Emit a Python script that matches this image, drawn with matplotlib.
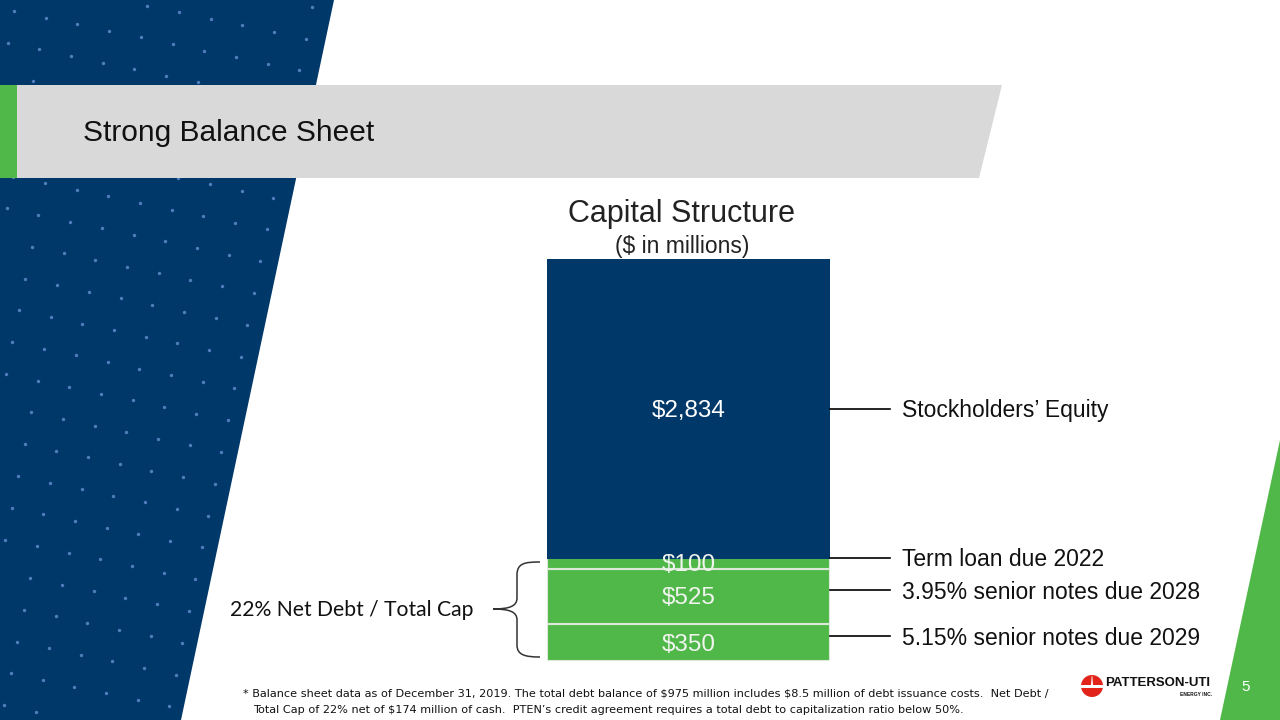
import numpy as np
import matplotlib.pyplot as plt
from matplotlib.patches import Polygon, PathPatch, Circle, Rectangle
from matplotlib.path import Path

# capital structure ($ in millions), bottom to top
segments = ['5.15% senior notes due 2029', '3.95% senior notes due 2028',
            'Term loan due 2022', 'Stockholders\u2019 Equity']
values = [350, 525, 100, 2834]
value_labels = ['$350', '$525', '$100', '$2,834']
seg_colors = ['#50B848', '#50B848', '#50B848', '#01386A']

# leader line offsets from segment middle (data units), layout only
leader_shift = [60, 60, 55, 0]

navy = '#01386A'
green = '#50B848'

fig = plt.figure(figsize=(12.8, 7.2), dpi=100)
bg = fig.add_axes([0, 0, 1, 1])
bg.set_xlim(0, 1280)
bg.set_ylim(720, 0)
bg.axis('off')

# left navy panel with dot pattern
bg.add_patch(Polygon([(0, 0), (334, 0), (181, 720), (0, 720)], closed=True,
                     facecolor=navy, edgecolor='none', zorder=0))
dx, dy = np.meshgrid(np.arange(-10, 30), np.arange(-5, 40))
px = 14 + dx * 31.7 - dy * 6.5
py = 11 + dx * 6.6 + dy * 31.8
edge = 334 - py * (153 / 720)
m = (px > 2) & (px < edge - 6) & (py > 2) & (py < 718)
bg.scatter(px[m], py[m], s=6, color='#4F7EBA', linewidths=0, zorder=1)

# right green triangle
bg.add_patch(Polygon([(1280, 440), (1280, 720), (1220, 720)], closed=True,
                     facecolor=green, edgecolor='none', zorder=0))

# title banner
bg.add_patch(Polygon([(0, 85), (1002, 85), (979, 178), (0, 178)], closed=True,
                     facecolor='#D9D9D9', edgecolor='none', zorder=2))
bg.add_patch(Polygon([(0, 85), (17, 85), (17, 178), (0, 178)], closed=True,
                     facecolor=green, edgecolor='none', zorder=3))
bg.text(83, 133, 'Strong Balance Sheet', fontsize=21.5, family='Liberation Sans',
        va='center', ha='left', color='#111111', zorder=4)

# chart titles
bg.text(682, 214, 'Capital Structure', fontsize=22, family='Liberation Sans',
        ha='center', va='center', color='#222222')
bg.text(682, 246, '($ in millions)', fontsize=16.5, family='Liberation Sans',
        ha='center', va='center', color='#222222')

# stacked bar
ax = fig.add_axes([547 / 1280, 1 - 661 / 720, 283 / 1280, 402 / 720])
total = sum(values)
bottom = 0
for lab, v, vl, c, sh in zip(segments, values, value_labels, seg_colors, leader_shift):
    ec = '#DCE8DA' if c == green else c
    ax.bar(0, v, bottom=bottom, width=1, color=c, edgecolor=ec, linewidth=1.5)
    mid = bottom + v / 2
    ax.annotate(vl, (0, mid), xytext=(0, -1.5), textcoords='offset points',
                ha='center', va='center', fontsize=17.5, family='Liberation Sans',
                color='#F0F4EE' if c == green else 'white')
    ly = mid + sh
    ax.plot([0.5, 0.712], [ly, ly], color='black', lw=1.2, clip_on=False)
    ax.annotate(lab, (0.754, ly), xytext=(0, -1.5), textcoords='offset points',
                ha='left', va='center', fontsize=16.5, family='Liberation Sans',
                color='#111111', annotation_clip=False)
    bottom += v
ax.set_xlim(-0.5, 0.5)
ax.set_ylim(0, total)
ax.axis('off')

# brace for debt
verts = [(540, 562), (525, 562), (517, 563), (517, 575), (517, 598),
         (517, 606), (510, 609), (493, 609),
         (510, 609), (517, 612), (517, 620), (517, 645),
         (517, 655), (525, 657), (540, 657)]
codes = [Path.MOVETO, Path.CURVE4, Path.CURVE4, Path.CURVE4, Path.LINETO,
         Path.CURVE4, Path.CURVE4, Path.CURVE4,
         Path.CURVE4, Path.CURVE4, Path.CURVE4, Path.LINETO,
         Path.CURVE4, Path.CURVE4, Path.CURVE4]
bg.add_patch(PathPatch(Path(verts, codes), facecolor='none', edgecolor='#333333', lw=1.1))
bg.text(474, 610, '22% Net Debt / Total Cap', fontsize=15.2, family='Lato',
        ha='right', va='center', color='#111111')

# footnote
bg.text(243, 693, '* Balance sheet data as of December 31, 2019. The total debt balance of $975 million '
        'includes $8.5 million of debt issuance costs.  Net Debt /',
        fontsize=8.1, family='DejaVu Sans', ha='left', va='center', color='#111111',
        parse_math=False)
bg.text(253, 710, 'Total Cap of 22% net of $174 million of cash.  PTEN\u2019s credit agreement requires '
        'a total debt to capitalization ratio below 50%.',
        fontsize=8.1, family='DejaVu Sans', ha='left', va='center', color='#111111',
        parse_math=False)

# logo
bg.add_patch(Circle((1092, 686), 11, facecolor='#E2231A', edgecolor='none'))
bg.add_patch(Rectangle((1080, 685), 24, 3, facecolor='white', edgecolor='none'))
bg.add_patch(Polygon([(1091, 685), (1093, 685), (1092.3, 676), (1091.7, 676)],
                     closed=True, facecolor='white', edgecolor='none'))
bg.text(1105, 683, 'PATTERSON-UTI', fontsize=9.5, fontweight='bold',
        family='Liberation Sans', ha='left', va='center', color='#111111')
bg.text(1212, 695, 'ENERGY INC.', fontsize=3.5, fontweight='bold',
        family='Liberation Sans', ha='right', va='center', color='#111111')

bg.text(1246, 687, '5', fontsize=11, family='Liberation Sans', ha='center',
        va='center', color='white')

fig.savefig('out.png', dpi=100)
